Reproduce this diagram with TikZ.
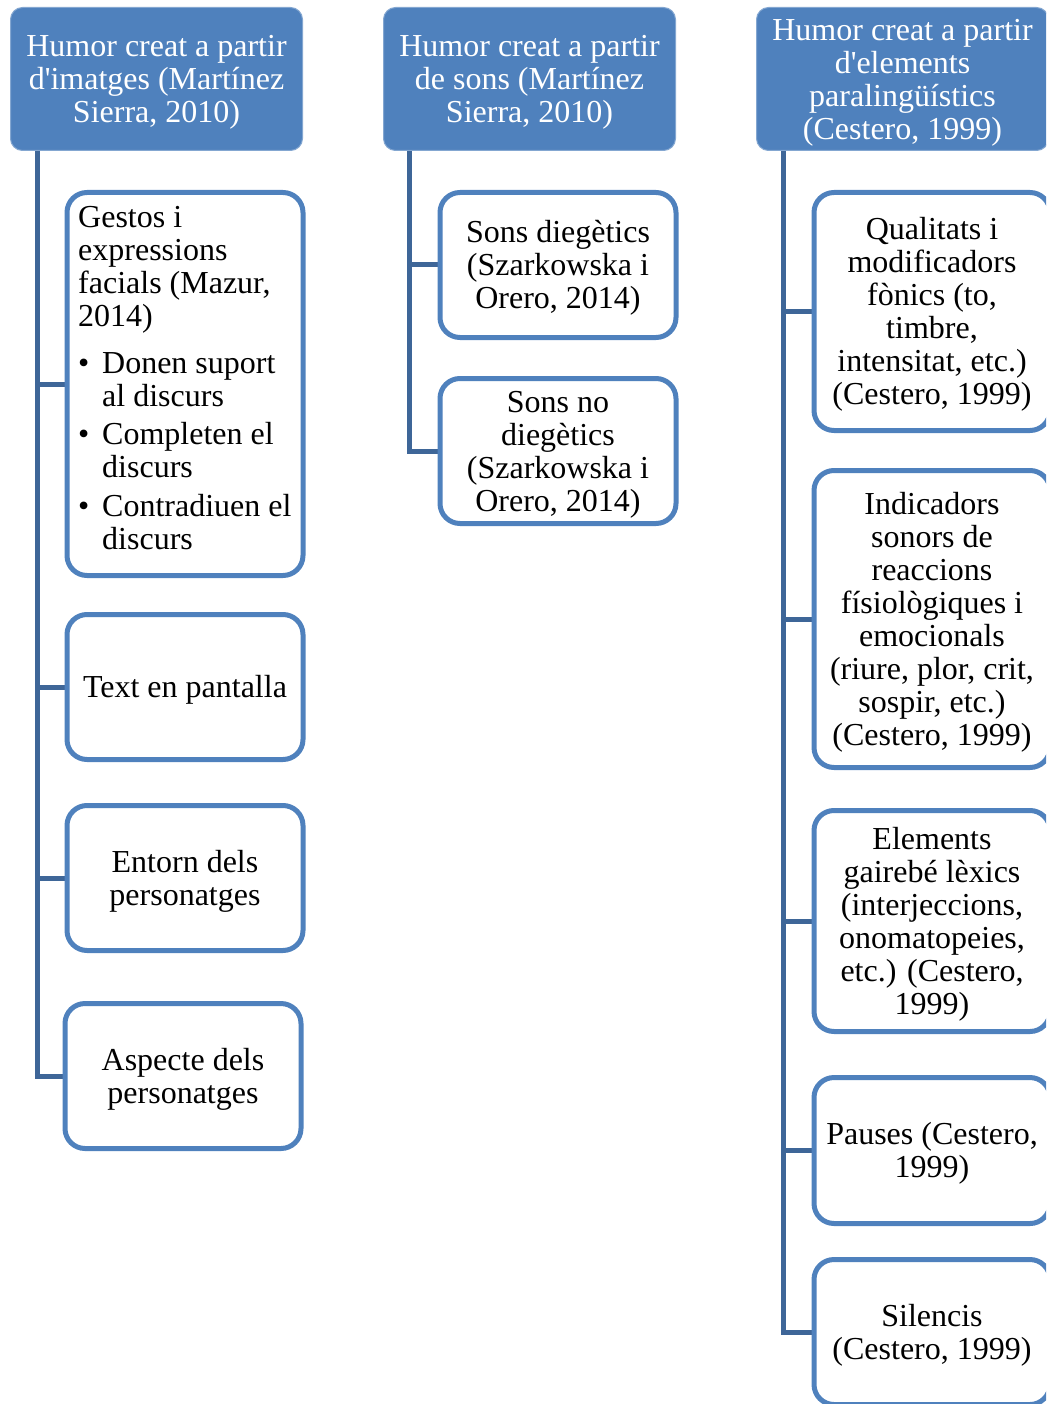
\documentclass[tikz,border=0pt]{standalone}
\usepackage{fontspec}
\setmainfont{Liberation Serif}[Ligatures=TeXOff]
\usetikzlibrary{backgrounds}
\definecolor{hblue}{RGB}{79,129,189}
\definecolor{lblue}{RGB}{62,102,152}
\newcommand{\Tup}{\rule{0pt}{28pt}}
\begin{document}
\begin{tikzpicture}[x=1pt,y=-1pt,
  hdr/.style={rounded corners=12pt, fill=hblue, draw=hblue!70!white, line width=1pt, text=white,
    align=center, minimum width=292pt, minimum height=143pt, inner sep=0pt,
    font=\fontsize{32}{33}\selectfont},
  itembox/.style={rounded corners=20pt, fill=white, draw=hblue, line width=5pt, align=center,
    minimum width=236pt, inner sep=0pt, font=\fontsize{32}{33}\selectfont},
  plainbox/.style={rounded corners=20pt, fill=white, draw=hblue, line width=5pt,
    minimum width=236pt, inner sep=0pt},
  link/.style={draw=lblue, line width=5pt}]
\useasboundingbox (0,0) rectangle (1046,1404);
\clip (0,0) rectangle (1046,1404);

% headers
\node[hdr, anchor=north west] (h1) at (10,7) {\Tup Humor creat a partir\\d'imatges (Martínez\\Sierra, 2010)};
\node[hdr, anchor=north west] (h2) at (383,7) {\Tup Humor creat a partir\\de sons (Martínez\\Sierra, 2010)};
\node[hdr, anchor=north west] (h3) at (756,7) {\Tup Humor creat a partir\\d'elements\\paralingüístics\\(Cestero, 1999)};

% left column
\node[plainbox, minimum height=383pt] (a) at (185,384) {};
\node[anchor=north west, inner sep=0pt, align=left, font=\fontsize{32}{33}\selectfont] (atext) at (78,204)
  {\strut Gestos i\\expressions\\facials (Mazur,\\2014)\\[14pt]
   \makebox[24pt][l]{\textbullet}Donen suport\\\hspace*{24pt}al discurs\\[5pt]
   \makebox[24pt][l]{\textbullet}Completen el\\\hspace*{24pt}discurs\\[6pt]
   \makebox[24pt][l]{\textbullet}Contradiuen el\\\hspace*{24pt}discurs};
\node[itembox, minimum height=145pt] (b) at (185,687) {\Tup Text en pantalla};
\node[itembox, minimum height=145pt] (c) at (185,878) {\Tup Entorn dels\\personatges};
\node[itembox, minimum height=145pt] (d) at (183,1076) {\Tup Aspecte dels\\personatges};

% middle column
\node[itembox, minimum height=145pt] (e) at (558,265) {\Tup Sons diegètics\\(Szarkowska i\\Orero, 2014)};
\node[itembox, minimum height=145pt] (f) at (558,451) {\Tup Sons no\\diegètics\\(Szarkowska i\\Orero, 2014)};

% right column
\node[itembox, minimum height=238pt] (g) at (932,311.5) {\Tup Qualitats i\\modificadors\\fònics (to,\\timbre,\\intensitat, etc.)\\(Cestero, 1999)};
\node[itembox, minimum height=297pt] (hh) at (932,619) {\Tup Indicadors\\sonors de\\reaccions\\físiològiques i\\emocionals\\(riure, plor, crit,\\sospir, etc.)\\(Cestero, 1999)};
\node[itembox, minimum height=221pt] (i) at (932,921) {\Tup Elements\\gairebé lèxics\\(interjeccions,\\onomatopeies,\\etc.) (Cestero,\\1999)};
\node[itembox, minimum height=146pt] (j) at (932,1150.5) {\Tup Pauses (Cestero,\\1999)};
\node[itembox, minimum height=145pt] (k) at (932,1332) {\Tup Silencis\\(Cestero, 1999)};

\coordinate (t1) at ([xshift=27pt]h1.south west);
\coordinate (t2) at ([xshift=26pt]h2.south west);
\coordinate (t3) at ([xshift=27pt]h3.south west);

\begin{pgfonlayer}{background}
\draw[link] (t1) |- (a.west);
\draw[link] (t1) |- (b.west);
\draw[link] (t1) |- (c.west);
\draw[link] (t1) |- (d.west);
\draw[link] (t2) |- (e.west);
\draw[link] (t2) |- (f.west);
\draw[link] (t3) |- (g.west);
\draw[link] (t3) |- (hh.west);
\draw[link] (t3) |- (i.west);
\draw[link] (t3) |- (j.west);
\draw[link] (t3) |- (k.west);
\end{pgfonlayer}
\end{tikzpicture}
\end{document}
